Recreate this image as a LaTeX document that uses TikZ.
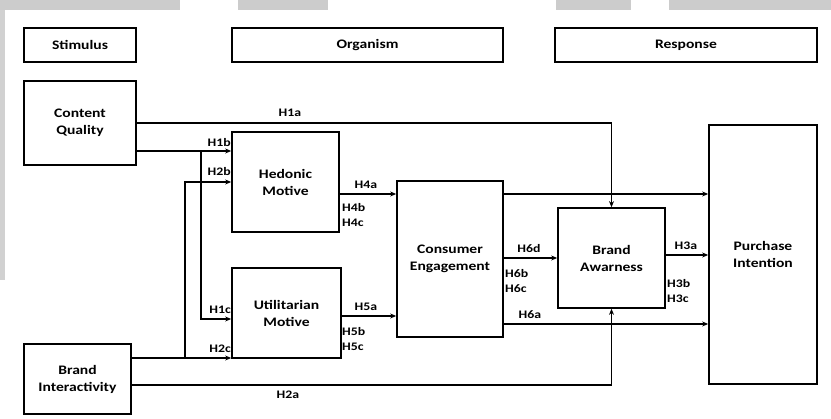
\documentclass[tikz,border=0pt]{standalone}
\usepackage{fontspec}
\setmainfont{Carlito}[FakeStretch=1.2]
\usetikzlibrary{arrows.meta}

\tikzset{
	box/.style={draw,line width=1.7pt,rectangle,align=center,inner sep=0pt,font=\fontsize{13}{17}\selectfont\bfseries},
	hyp/.style={inner sep=0pt,font=\fontsize{11.5}{14.5}\selectfont\bfseries},
	link/.style={line width=1.5pt,-{Stealth[length=6pt,width=5pt]}},
	plain/.style={line width=1.5pt}
}

\begin{document}
\begin{tikzpicture}[x=1pt,y=-1pt]
	\useasboundingbox (0,0) rectangle (831,419);
	\fill[black!20] (0,0) rectangle (180,10);
	\fill[black!20] (238,0) rectangle (328,10);
	\fill[black!20] (556,0) rectangle (631,10);
	\fill[black!20] (669,0) rectangle (831,10);
	\fill[black!18] (0,10) rectangle (5,280);

	\node[box,minimum width=112pt,minimum height=34pt] (stim) at (80,45) {Stimulus};
	\node[box,minimum width=271pt,minimum height=34pt] (org) at (367.5,45) {Organism};
	\node[box,minimum width=262pt,minimum height=34pt] (resp) at (686,45) {Response};

	\node[box,minimum width=112pt,minimum height=84pt] (cq) at (80,123) {Content\\Quality};
	\node[box,minimum width=107pt,minimum height=70pt] (bi) at (77.5,379) {Brand\\Interactivity};
	\node[box,minimum width=107pt,minimum height=100pt] (hed) at (285.5,182) {Hedonic\\Motive};
	\node[box,minimum width=109pt,minimum height=90pt] (util) at (286.5,313) {Utilitarian\\Motive};
	\node[box,minimum width=106pt,minimum height=156pt] (ce) at (450,259) {Consumer\\Engagement};
	\node[box,minimum width=107pt,minimum height=100pt] (ba) at (611.5,258) {Brand\\Awarness};
	\node[box,minimum width=108pt,minimum height=259pt] (pi) at (763,254.5) {Purchase\\Intention};

	% levels and bends
	\coordinate (j1) at (201,151);
	\coordinate (j2) at (201,319);
	\coordinate (k1) at (185,358);
	\coordinate (r194) at (0,194);
	\coordinate (r316) at (0,316);
	\coordinate (r324) at (0,324);
	\coordinate (r255) at (0,255);
	\coordinate (r385) at (0,385);

	\draw[link] (cq.east) -| (ba.north);
	\draw[link] (cq.east |- j1) -- (hed.west |- j1);
	\draw[link] (j1) -- (j2) -- (util.west |- j2);
	\draw[link] (bi.east |- k1) -- (util.west |- k1);
	\draw[link] (k1) |- (hed.west);
	\draw[link] (bi.east |- r385) -| (ba.south);

	\draw[link] (hed.east |- r194) -- (ce.west |- r194);
	\draw[link] (util.east |- r316) -- (ce.west |- r316);
	\draw[link] (ce.east |- r194) -- (pi.west |- r194);
	\draw[link] (ce.east |- ba.west) -- (ba.west);
	\draw[link] (ce.east |- r324) -- (pi.west |- r324);
	\draw[link] (ba.east |- r255) -- (pi.west |- r255);

	\node[hyp] (h1a) at (290,113) {H1a};
	\node[hyp,anchor=east] (h1b) at (231,143) {H1b};
	\node[hyp,anchor=east] (h2b) at (231,172) {H2b};
	\node[hyp,anchor=east] (h1c) at (231,310) {H1c};
	\node[hyp,anchor=east] (h2c) at (231,349) {H2c};
	\node[hyp] (h2a) at (288,395) {H2a};
	\node[hyp] (h4a) at (366,185) {H4a};
	\node[hyp,anchor=west,align=left] (h4bc) at (342,215) {H4b\\H4c};
	\node[hyp] (h5a) at (366,307) {H5a};
	\node[hyp,anchor=west,align=left] (h5bc) at (342,339) {H5b\\H5c};
	\node[hyp] (h6d) at (529,249) {H6d};
	\node[hyp,anchor=west,align=left] (h6bc) at (505,281) {H6b\\H6c};
	\node[hyp] (h6a) at (530,315) {H6a};
	\node[hyp] (h3a) at (686,246) {H3a};
	\node[hyp,anchor=west,align=left] (h3bc) at (667,291) {H3b\\H3c};
\end{tikzpicture}
\end{document}
